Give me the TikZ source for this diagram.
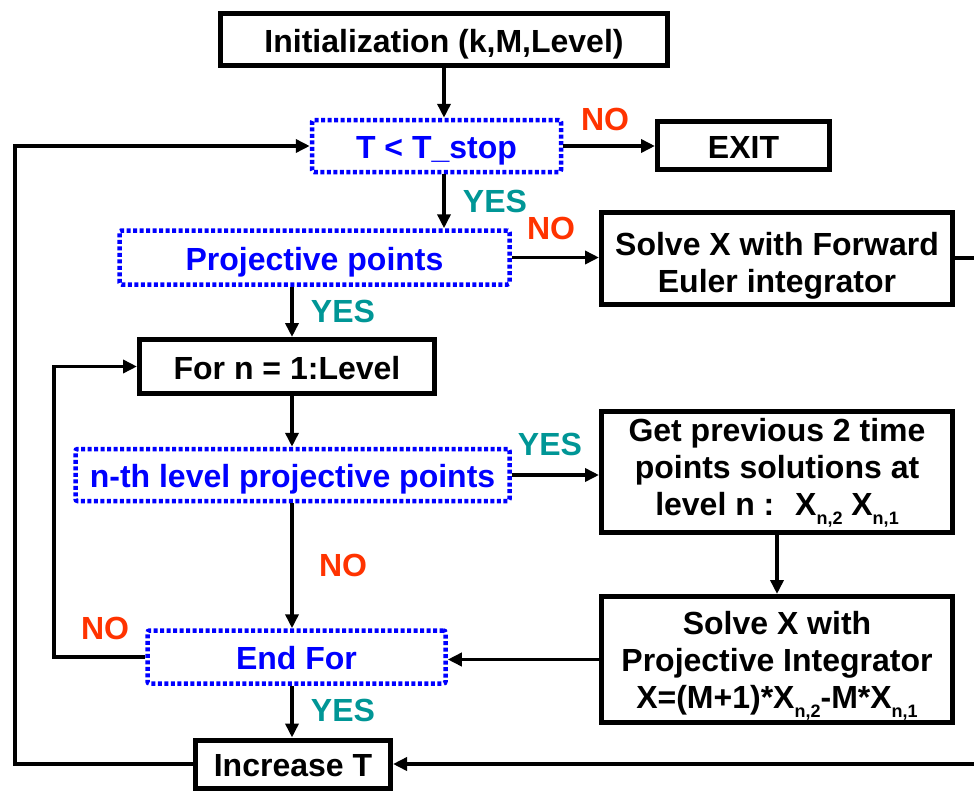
\documentclass[tikz,border=0pt]{standalone}
\usepackage{fontspec}
\setmainfont{Liberation Sans}
\usetikzlibrary{arrows.meta}
\definecolor{yescol}{RGB}{0,150,150}
\definecolor{nocol}{RGB}{255,51,0}
\definecolor{decblue}{RGB}{0,0,255}
% lowered small subscript used in the X_{n,k} labels
\newcommand\subx[1]{\raisebox{-9pt}[0pt][0pt]{\fontsize{18}{18}\selectfont #1}}
\begin{document}
\begin{tikzpicture}[x=1pt,y=-1pt,
  every node/.style={font=\fontsize{32}{37}\selectfont\bfseries, inner sep=0pt},
  oneline/.style={text height=25pt, text depth=0pt},
  procbox/.style={draw=black, line width=5pt, fill=white, align=center},
  testbox/.style={draw=decblue, line width=4.5pt, dash pattern=on 4pt off 2.5pt,
                  rounded corners=2pt, fill=white, text=decblue, oneline},
  flow/.style={line width=3.5pt, -{Triangle[length=14pt,width=13pt]}},
  yeslbl/.style={text=yescol},
  nolbl/.style={text=nocol}]
  \clip (0,0) rectangle (974,792);
  \fill[white] (0,0) rectangle (974,792);

  % rails used by the loop-back connectors
  \coordinate (spine) at (292,0);
  \coordinate (outerrail) at (15,0);
  \coordinate (innerrail) at (54,0);
  \coordinate (rightrail) at (995,0);

  % process and decision boxes
  \node[procbox, oneline, minimum width=447, minimum height=52] (init) at (444,40) {Initialization (k,M,Level)};
  \node[testbox, minimum width=249, minimum height=52] (tstop) at (436.5,146) {T < T\_stop};
  \node[procbox, oneline, minimum width=172, minimum height=48] (exit) at (743.5,145.5) {EXIT};
  \node[testbox, minimum width=390, minimum height=54] (proj) at (314.5,257.5) {Projective points};
  \node[procbox, text height=68pt, text depth=0pt, minimum width=351, minimum height=92] (euler) at (777,258)
    {Solve X with Forward\\Euler integrator};
  \node[procbox, oneline, minimum width=295, minimum height=54] (forn) at (287,366.5) {For n = 1:Level};
  \node[testbox, minimum width=434, minimum height=52] (nth) at (292.5,475) {n-th level projective points};
  \node[procbox, text height=86pt, text depth=0pt, minimum width=351, minimum height=121] (getprev) at (777,472)
    {Get previous 2 time\\points solutions at\\level n :~ X\subx{n,2} X\subx{n,1}};
  \node[procbox, text height=98pt, text depth=0pt, minimum width=351, minimum height=126] (solveproj) at (777,659.5)
    {Solve X with\\Projective Integrator\\X=(M+1)*X\subx{n,2}-M*X\subx{n,1}};
  \node[testbox, minimum width=298, minimum height=53] (endfor) at (296.5,657) {End For};
  \node[procbox, oneline, minimum width=195, minimum height=48] (inct) at (293,764) {Increase T};

  % branch labels
  \node[nolbl] (no1) at (605,119) {NO};
  \node[yeslbl] (yes1) at (495,201) {YES};
  \node[nolbl] (no2) at (551,228) {NO};
  \node[yeslbl] (yes2) at (343,311) {YES};
  \node[yeslbl] (yes3) at (550,444) {YES};
  \node[nolbl] (no3) at (343,565) {NO};
  \node[nolbl] (no4) at (105,628) {NO};
  \node[yeslbl] (yes4) at (343,710) {YES};

  % main flow
  \draw[flow] (init.south) -- (init.south |- tstop.north);
  \draw[flow] (tstop.east) -- (tstop.east -| exit.west);
  \draw[flow] (init.south |- tstop.south) -- (init.south |- proj.north);
  \draw[flow] (proj.east) -- (proj.east -| euler.west);
  \draw[flow] (proj.south -| spine) -- (forn.north -| spine);
  \draw[flow] (forn.south -| spine) -- (nth.north -| spine);
  \draw[flow] (nth.east) -- (nth.east -| getprev.west);
  \draw[flow] (nth.south -| spine) -- (endfor.north -| spine);
  \draw[flow] (getprev.south) -- (solveproj.north);
  \draw[flow] (solveproj.west) -- (solveproj.west -| endfor.east);
  \draw[flow] (endfor.south -| spine) -- (inct.north -| spine);

  % loop-back connectors
  \draw[flow] (endfor.west) -- (endfor.west -| innerrail) -- (forn.west -| innerrail) -- (forn.west);
  \draw[flow] (inct.west) -- (inct.west -| outerrail) -- (tstop.west -| outerrail) -- (tstop.west);
  \draw[flow] (euler.east) -- (euler.east -| rightrail) -- (inct.east -| rightrail) -- (inct.east);
\end{tikzpicture}
\end{document}
